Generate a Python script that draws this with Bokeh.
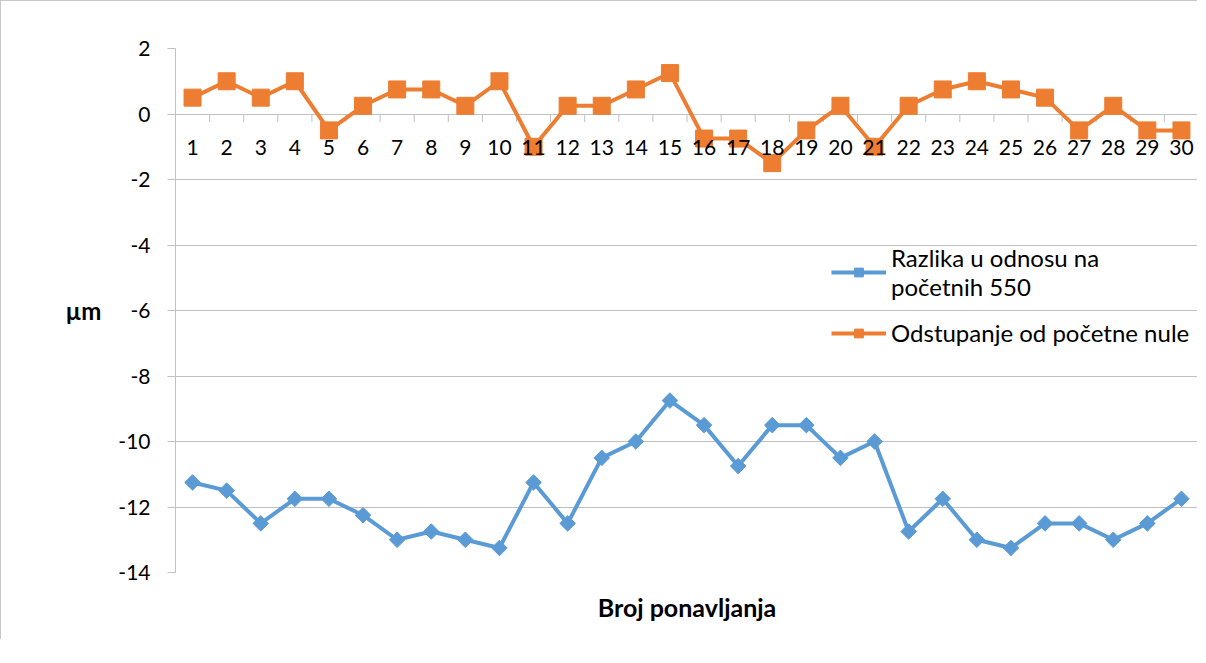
from bokeh.plotting import figure
from bokeh.embed import file_html
from bokeh.resources import INLINE
from bokeh.models import Range1d, FixedTicker, Legend, LegendItem
from bokeh.core.properties import value
import math

# ---- data ----
categories = list(range(1, 31))
category_labels = [str(c) for c in categories]
razlika = [-11.25, -11.5, -12.5, -11.75, -11.75, -12.25, -13.0, -12.75, -13.0, -13.25,
           -11.25, -12.5, -10.5, -10.0, -8.75, -9.5, -10.75, -9.5, -9.5, -10.5,
           -10.0, -12.75, -11.75, -13.0, -13.25, -12.5, -12.5, -13.0, -12.5, -11.75]
odstupanje = [0.5, 1.0, 0.5, 1.0, -0.5, 0.25, 0.75, 0.75, 0.25, 1.0,
              -1.0, 0.25, 0.25, 0.75, 1.25, -0.75, -0.75, -1.5, -0.5, 0.25,
              -1.0, 0.25, 0.75, 1.0, 0.75, 0.5, -0.5, 0.25, -0.5, -0.5]
y_ticks = [-14, -12, -10, -8, -6, -4, -2, 0, 2]
y_tick_labels = [str(t) for t in y_ticks]
series_names = ["Razlika u odnosu na\npočetnih 550", "Odstupanje od početne nule"]
x_title = "Broj ponavljanja"
y_title = "µm"

BLUE = "#5B9BD5"
ORANGE = "#ED7D31"
GRID = "#c0c0c0"
FONT = "Lato"

p = figure(width=1197, height=639, output_backend="svg", toolbar_location=None,
           x_range=Range1d(categories[0] - 0.5, categories[-1] + 0.5),
           y_range=Range1d(min(y_ticks), max(y_ticks)),
           min_border_left=174, min_border_top=47, min_border_bottom=68,
           min_border_right=0)
p.styles = {"border-left": "1px solid #c8c8c8", "border-top": "1px solid #c8c8c8"}
p.outline_line_color = None
p.background_fill_color = "white"
p.border_fill_color = "white"

# grid
p.xgrid.visible = False
p.ygrid.ticker = FixedTicker(ticks=y_ticks)
p.ygrid.grid_line_color = GRID
p.ygrid.grid_line_width = 1

# y axis
ya = p.yaxis[0]
ya.ticker = FixedTicker(ticks=y_ticks)
ya.major_label_overrides = dict(zip(y_ticks, y_tick_labels))
ya.axis_line_color = GRID
ya.major_tick_line_color = GRID
ya.major_tick_out = 8
ya.major_tick_in = 0
ya.minor_tick_line_color = None
ya.major_label_standoff = 17
ya.major_label_text_font = FONT
ya.major_label_text_font_size = "21px"
ya.major_label_text_color = "black"
ya.axis_label = y_title
ya.axis_label_orientation = "horizontal"
ya.axis_label_text_font = FONT
ya.axis_label_text_font_style = "bold"
ya.axis_label_text_font_size = "24px"
ya.axis_label_text_color = "black"
ya.axis_label_standoff = 14

# x axis (only title)
xa = p.xaxis[0]
xa.ticker = FixedTicker(ticks=[])
xa.axis_line_color = None
xa.major_tick_line_color = None
xa.minor_tick_line_color = None
xa.major_tick_out = 0
xa.major_label_standoff = 0
xa.axis_label = x_title
xa.axis_label_text_font = FONT
xa.axis_label_text_font_style = "bold"
xa.axis_label_text_font_size = "25px"
xa.axis_label_text_color = "black"
xa.axis_label_standoff = 19

# category separator ticks along y=0
bounds = [c - 0.5 for c in categories] + [categories[-1] + 0.5]
p.ray(x=bounds, y=[0] * len(bounds), length=8, angle=-math.pi / 2,
      length_units="screen", line_color=GRID, line_width=1)

# series
bl = p.line(categories, razlika, line_color=BLUE, line_width=4)
bm = p.scatter(categories, razlika, marker="square", angle=math.pi / 4, size=11,
               fill_color=BLUE, line_color=BLUE)
ol = p.line(categories, odstupanje, line_color=ORANGE, line_width=4)
om = p.scatter(categories, odstupanje, marker="square", size=17,
               fill_color=ORANGE, line_color=ORANGE)

# category labels
p.text(x=categories, y=[0] * len(categories), text=category_labels,
       text_align="center", text_baseline="middle", y_offset=33,
       text_font=value(FONT), text_font_size="21px", text_color="black")

legend = Legend(items=[LegendItem(label=series_names[0], renderers=[bl, bm]),
                       LegendItem(label=series_names[1], renderers=[ol, om])],
                location=(656, 225))
legend.background_fill_alpha = 0
legend.border_line_color = None
legend.padding = 0
legend.margin = 0
legend.spacing = 17
legend.glyph_width = 55
legend.glyph_height = 22
legend.label_standoff = 5
legend.label_text_font = FONT
legend.label_text_font_size = "24px"
legend.label_text_color = "black"
p.add_layout(legend, "center")

open("out.html", "w").write(file_html(p, INLINE))
